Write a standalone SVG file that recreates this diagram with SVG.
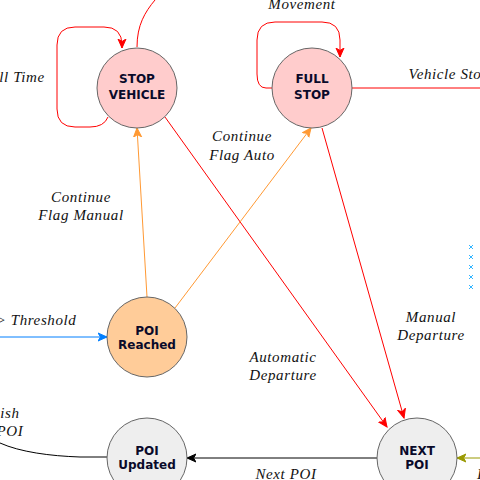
<svg xmlns="http://www.w3.org/2000/svg" width="480" height="480" viewBox="0 0 480 480">
<style>
.n{stroke:#666666;stroke-width:1}
.t{font-family:"DejaVu Sans",sans-serif;font-weight:bold;font-size:12px;fill:#0a0a2a;text-anchor:middle}
.l{font-family:"Liberation Serif",serif;font-style:italic;font-size:15px;fill:#111;text-anchor:middle;letter-spacing:0.6px}
.e{fill:none;stroke-width:1}
.x{stroke:#33b5ff;stroke-width:1}
</style>
<defs>
<marker id="ar" viewBox="0 0 10 10" refX="9" refY="5" markerWidth="10" markerHeight="10" markerUnits="userSpaceOnUse" orient="auto"><path d="M0,1 L9,5 L0,9 L2.5,5 Z" fill="#ff0000" stroke="#ff0000"/></marker>
<marker id="ao" viewBox="0 0 10 10" refX="9" refY="5" markerWidth="10" markerHeight="10" markerUnits="userSpaceOnUse" orient="auto"><path d="M0,1 L9,5 L0,9 L2.5,5 Z" fill="#ff9933" stroke="#ff9933"/></marker>
<marker id="ab" viewBox="0 0 10 10" refX="9" refY="5" markerWidth="10" markerHeight="10" markerUnits="userSpaceOnUse" orient="auto"><path d="M0,1 L9,5 L0,9 L2.5,5 Z" fill="#007fff" stroke="#007fff"/></marker>
<marker id="ak" viewBox="0 0 10 10" refX="9" refY="5" markerWidth="10" markerHeight="10" markerUnits="userSpaceOnUse" orient="auto"><path d="M0,1 L9,5 L0,9 L2.5,5 Z" fill="#000" stroke="#000"/></marker>
<marker id="ay" viewBox="0 0 10 10" refX="9" refY="5" markerWidth="10" markerHeight="10" markerUnits="userSpaceOnUse" orient="auto"><path d="M0,1 L9,5 L0,9 L2.5,5 Z" fill="#999900" stroke="#999900"/></marker>
</defs>
<g id="connectors">
<path class="e" stroke="#ff0000" d="M108,117 Q104,127 90,127 L75,127 Q57,127 57,109 L57,45 Q57,27 75,27 L104,27 Q122,27 122,45 L122,48" marker-end="url(#ar)"/>
<path class="e" stroke="#ff0000" d="M137,47 C137,25 145,12 155,0"/>
<path class="e" stroke="#ff0000" d="M272,88 L266,88 Q257,88 257,74 L257,40 Q257,22 275,22 L322,22 Q340,22 340,40 L340,57" marker-end="url(#ar)"/>
<path class="e" stroke="#ff0000" d="M352,88 L480,88"/>
<path class="e" stroke="#ff0000" d="M165,117 L387,427" marker-end="url(#ar)"/>
<path class="e" stroke="#ff0000" d="M322,128 L404,418" marker-end="url(#ar)"/>
<path class="e" stroke="#ff9933" d="M147,297 L137,128" marker-end="url(#ao)"/>
<path class="e" stroke="#ff9933" d="M175,308 L311,128" marker-end="url(#ao)"/>
<path class="e" stroke="#007fff" d="M0,337 L107,337" marker-end="url(#ab)"/>
<path class="e" stroke="#000" d="M107,457 L80,457 C50,456 20,452 0,443"/>
<path class="e" stroke="#000" d="M377,458 L187,458" marker-end="url(#ak)"/>
<path class="e" stroke="#999900" d="M480,458 L457,458" marker-end="url(#ay)"/>
</g>
<g id="stop-vehicle"><circle class="n" cx="137" cy="88" r="40" fill="#ffcccc"/><text class="t" x="137" y="83">STOP</text><text class="t" x="137" y="99">VEHICLE</text></g>
<g id="full-stop"><circle class="n" cx="312" cy="88" r="40" fill="#ffcccc"/><text class="t" x="312" y="83">FULL</text><text class="t" x="312" y="99">STOP</text></g>
<g id="poi-reached"><circle class="n" cx="147" cy="337" r="40" fill="#ffcc99"/><text class="t" x="147" y="335">POI</text><text class="t" x="147" y="349">Reached</text></g>
<g id="poi-updated"><circle class="n" cx="147" cy="458" r="40" fill="#eeeeee"/><text class="t" x="147" y="455">POI</text><text class="t" x="147" y="469">Updated</text></g>
<g id="next-poi"><circle class="n" cx="417" cy="458" r="40" fill="#eeeeee"/><text class="t" x="417" y="455">NEXT</text><text class="t" x="417" y="469">POI</text></g>
<g id="labels">
<text class="l" x="22" y="82">ll Time</text>
<text class="l" x="302" y="9">Movement</text>
<text class="l" x="445" y="79">Vehicle Sto</text>
<text class="l" x="242" y="141">Continue</text>
<text class="l" x="242" y="160">Flag Auto</text>
<text class="l" x="81" y="202">Continue</text>
<text class="l" x="81" y="220">Flag Manual</text>
<text class="l" x="36" y="325">&gt; Threshold</text>
<text class="l" x="431" y="322">Manual</text>
<text class="l" x="431" y="340">Departure</text>
<text class="l" x="283" y="362">Automatic</text>
<text class="l" x="283" y="380">Departure</text>
<text class="l" x="10" y="418">ish</text>
<text class="l" x="10" y="436">POI</text>
<text class="l" x="286" y="479">Next POI</text>
<text class="l" x="477" y="479" style="text-anchor:start">I</text>
</g>
<g id="marks">
<path class="x" d="M469,245 l4,4 m0,-4 l-4,4 M469,255 l4,4 m0,-4 l-4,4 M469,265 l4,4 m0,-4 l-4,4 M469,275 l4,4 m0,-4 l-4,4 M469,285 l4,4 m0,-4 l-4,4"/>
</g>
</svg>
